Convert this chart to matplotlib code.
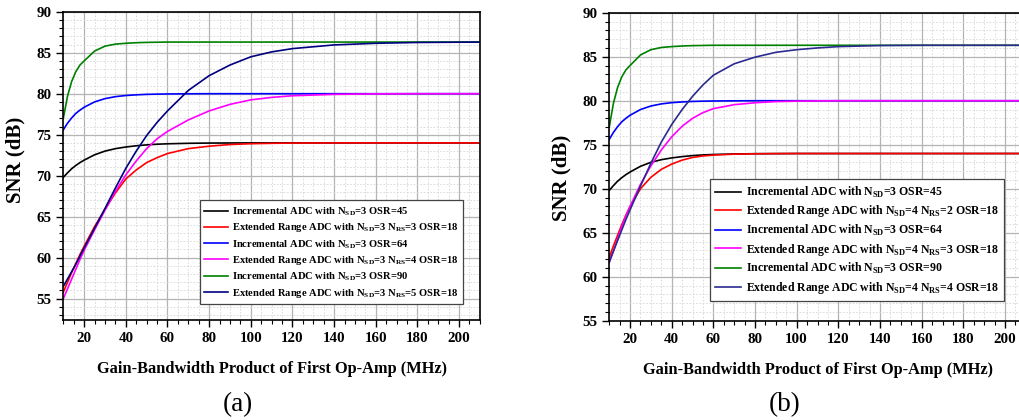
"""SNR vs GBW of the first op-amp, two panels (a) and (b)."""

import matplotlib.pyplot as plt
from matplotlib.ticker import MultipleLocator

plt.rcParams["font.family"] = ["Liberation Serif", "DejaVu Serif"]
plt.rcParams["font.weight"] = "bold"
plt.rcParams["mathtext.fontset"] = "custom"
plt.rcParams["mathtext.rm"] = "Liberation Serif:bold"
plt.rcParams["mathtext.bf"] = "Liberation Serif:bold"

# GBW in MHz (shared sample points)
gbw = [10, 12, 14, 16, 18, 20, 25, 30, 35, 40, 45, 50, 55, 60,
       70, 80, 90, 100, 110, 120, 140, 160, 180, 210]

# incremental ADCs, N_SD=3 (same in both panels)
inc_osr45 = [69.8, 70.35, 70.85, 71.25, 71.6, 71.9, 72.55, 73.0, 73.3, 73.5, 73.65, 73.76,
             73.84, 73.89, 73.95, 73.98, 73.99, 74.0, 74.0, 74.0, 74.0, 74.0, 74.0, 74.0]
inc_osr64 = [75.6, 76.4, 77.05, 77.6, 78.0, 78.35, 79.0, 79.4, 79.64, 79.78, 79.86, 79.92,
             79.95, 79.97, 79.99, 80.0, 80.0, 80.0, 80.0, 80.0, 80.0, 80.0, 80.0, 80.0]
inc_osr90 = [77.0, 79.7, 81.5, 82.7, 83.5, 84.0, 85.2, 85.8, 86.05, 86.15, 86.22, 86.26,
             86.28, 86.3, 86.3, 86.3, 86.3, 86.3, 86.3, 86.3, 86.3, 86.3, 86.3, 86.3]

# (a) extended range, N_SD=3
era_rs3 = [55.8, 57.0, 58.2, 59.3, 60.4, 61.4, 63.8, 65.9, 67.9, 69.6, 70.7, 71.6,
           72.2, 72.7, 73.3, 73.6, 73.8, 73.9, 73.95, 73.98, 74.0, 74.0, 74.0, 74.0]
era_rs4 = [55.0, 56.2, 57.4, 58.6, 59.8, 60.9, 63.4, 65.8, 68.1, 70.1, 71.8, 73.3,
           74.5, 75.4, 76.8, 77.9, 78.7, 79.25, 79.55, 79.75, 79.92, 79.98, 80.0, 80.0]
era_rs5 = [56.5, 57.4, 58.3, 59.2, 60.2, 61.2, 63.6, 66.0, 68.5, 70.9, 73.0, 74.9,
           76.5, 77.9, 80.4, 82.2, 83.5, 84.5, 85.1, 85.5, 85.95, 86.15, 86.25, 86.3]

# (b) extended range, N_SD=4
erb_rs2 = [62.2, 63.5, 64.7, 65.9, 67.0, 68.0, 70.0, 71.3, 72.2, 72.8, 73.25, 73.55,
           73.72, 73.82, 73.93, 73.97, 73.99, 74.0, 74.0, 74.0, 74.0, 74.0, 74.0, 74.0]
erb_rs3 = [61.6, 62.9, 64.3, 65.7, 66.9, 68.0, 70.5, 72.6, 74.4, 75.9, 77.1, 78.0,
           78.65, 79.1, 79.55, 79.77, 79.9, 79.95, 79.98, 80.0, 80.0, 80.0, 80.0, 80.0]
erb_rs4 = [61.7, 62.9, 64.1, 65.3, 66.5, 67.6, 70.3, 72.9, 75.3, 77.3, 79.0, 80.5,
           81.8, 82.9, 84.2, 84.95, 85.5, 85.8, 86.0, 86.15, 86.27, 86.3, 86.3, 86.3]

inc = r"Incremental ADC with N$_{\mathrm{SD}}$=3 OSR="
er = r"Extended Range ADC with N$_{\mathrm{SD}}$=%d N$_{\mathrm{RS}}$=%d OSR=18"

panels = [
    dict(rect=[0.0621, 0.2381, 0.4084, 0.734], ylim=(52.4, 90), tag="(a)", tag_x=0.218,
         ext=[(3, 3, era_rs3), (3, 4, era_rs4), (3, 5, era_rs5)],
         leg=(0.960, 0.051), fs=7.6, ls=0.32, ylab=(-0.092, 0.52), navy="#000080"),
    dict(rect=[0.5973, 0.2364, 0.4084, 0.7333], ylim=(55, 90), tag="(b)", tag_x=0.754,
         ext=[(4, 2, erb_rs2), (4, 3, erb_rs3), (4, 4, erb_rs4)],
         leg=(0.948, 0.064), fs=8.5, ls=0.3, ylab=(-0.09, 0.463), navy="#2a2a90"),
]

fig = plt.figure(figsize=(10.2, 4.2), dpi=100)

for p in panels:
    ax = fig.add_axes(p["rect"])
    colors = ["black", "#ff0000", "#0000ff", "#ff00ff", "#008000", p["navy"]]
    series = [(inc + "45", inc_osr45),
              (er % p["ext"][0][:2], p["ext"][0][2]),
              (inc + "64", inc_osr64),
              (er % p["ext"][1][:2], p["ext"][1][2]),
              (inc + "90", inc_osr90),
              (er % p["ext"][2][:2], p["ext"][2][2])]
    for (label, vals), c in zip(series, colors):
        ax.plot(gbw, vals, color=c, lw=1.2, label=label)

    ax.set_xlim(10, 210)
    ax.set_ylim(*p["ylim"])
    ax.xaxis.set_major_locator(MultipleLocator(20))
    ax.xaxis.set_minor_locator(MultipleLocator(5))
    ax.yaxis.set_major_locator(MultipleLocator(5))
    ax.yaxis.set_minor_locator(MultipleLocator(1))
    ax.grid(which="major", color="#b4b4b4", lw=0.9)
    ax.grid(which="minor", color="#d6d6d6", lw=0.6, ls=(0, (2, 2)))
    ax.set_axisbelow(True)
    ax.tick_params(which="major", direction="out", length=5, width=1, labelsize=10.8)
    ax.tick_params(which="minor", direction="out", length=3, width=0.8)
    for s in ax.spines.values():
        s.set_linewidth(1.2)
    for t in ax.get_xticklabels() + ax.get_yticklabels():
        t.set_fontweight("bold")

    ax.set_xlabel("Gain-Bandwidth Product of First Op-Amp (MHz)", fontsize=11.8,
                  fontweight="bold", labelpad=12)
    ax.set_ylabel("SNR (dB)", fontsize=15, fontweight="bold")
    ax.yaxis.set_label_coords(*p["ylab"])

    leg = ax.legend(loc="lower right", bbox_to_anchor=p["leg"], borderaxespad=0,
                    fontsize=p["fs"], frameon=True, fancybox=False, handlelength=2.2,
                    handletextpad=0.4, labelspacing=p["ls"], borderpad=0.45)
    leg.get_frame().set_edgecolor("#444444")
    leg.get_frame().set_linewidth(0.9)
    leg.get_frame().set_alpha(1)

    fig.text(p["tag_x"], 0.036, p["tag"], fontsize=19.5, fontweight="normal", va="center")

fig.savefig("out.png", dpi=100)
